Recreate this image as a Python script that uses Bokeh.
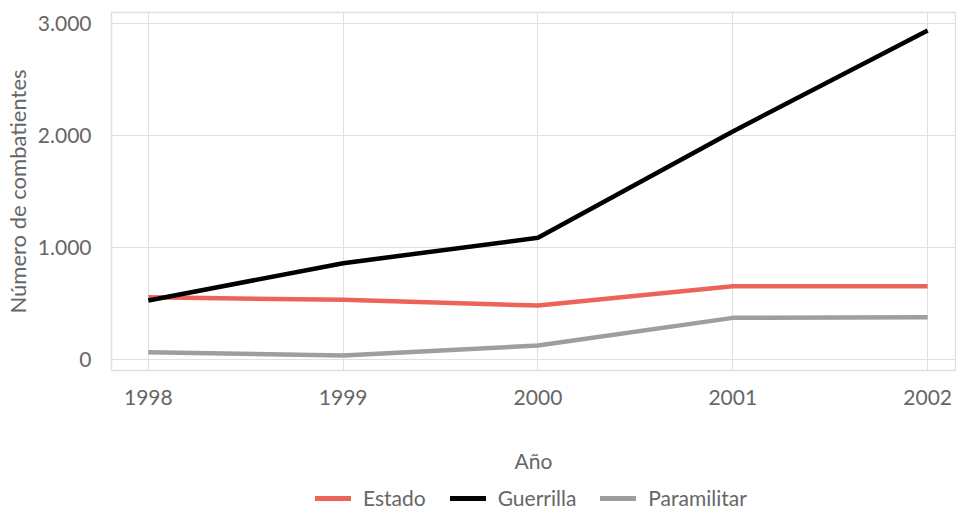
from bokeh.plotting import figure
from bokeh.layouts import column
from bokeh.models import FixedTicker, CustomJSTickFormatter, Range1d, Div
from bokeh.embed import file_html
from bokeh.resources import INLINE

years = [1998, 1999, 2000, 2001, 2002]
estado = [555, 533, 482, 655, 655]
guerrilla = [527, 860, 1087, 2036, 2937]
paramilitar = [65, 36, 125, 372, 378]
y_ticks = [0, 1000, 2000, 3000]
series_names = ["Estado", "Guerrilla", "Paramilitar"]
colors = ["#EC6459", "#000000", "#9E9E9E"]

FONT = "Lato"
TXT = "#666666"
LW = 4.5

p = figure(width=956, height=478, output_backend="svg", toolbar_location=None,
           x_range=Range1d(1997.811, 2002.143), y_range=Range1d(-98, 3098),
           min_border_left=107, min_border_right=1, min_border_top=12, min_border_bottom=108)

for vals, c in zip([estado, guerrilla, paramilitar], colors):
    p.line(years, vals, line_color=c, line_width=LW)

p.xaxis.ticker = FixedTicker(ticks=years)
p.yaxis.ticker = FixedTicker(ticks=y_ticks)
p.yaxis.formatter = CustomJSTickFormatter(code="return tick.toFixed(0).replace(/\\B(?=(\\d{3})+(?!\\d))/g, '.');")

for ax in [p.xaxis[0], p.yaxis[0]]:
    ax.axis_line_color = None
    ax.major_tick_line_color = None
    ax.minor_tick_line_color = None
    ax.major_label_text_font = FONT
    ax.major_label_text_font_size = "21px"
    ax.major_label_text_color = TXT
    ax.axis_label_text_font = FONT
    ax.axis_label_text_font_style = "normal"
    ax.axis_label_text_color = TXT

p.xaxis.axis_label = "Año"
p.xaxis.axis_label_text_font_size = "21px"
p.xaxis.major_label_standoff = 13
p.xaxis.axis_label_standoff = 40
p.yaxis.axis_label = "Número de combatientes"
p.yaxis.axis_label_text_font_size = "22px"
p.yaxis.major_label_standoff = 14
p.yaxis.axis_label_standoff = 4

p.xgrid.grid_line_color = "#E0E0E0"
p.ygrid.grid_line_color = "#E0E0E0"
p.outline_line_color = "#E0E0E0"
p.outline_line_width = 1.5

# legend strip below the chart (HTML, real text)
parts = []
for n, c in zip(series_names, colors):
    parts.append(
        f'<span style="display:inline-block;width:36px;height:5px;background:{c};margin-right:12px;"></span>'
        f'<span style="margin-right:24px;">{n}</span>'
    )
html = (f'<div style="display:flex;align-items:center;box-sizing:border-box;height:34px;'
        f'padding-top:6px;padding-left:315px;font-family:{FONT};font-size:21px;color:{TXT};'
        f'white-space:nowrap;line-height:26px;">' + "".join(parts) + '</div>')
lg = Div(text=html, width=956, height=34, margin=0)

layout = column(p, lg, spacing=0)
open("out.html", "w").write(file_html(layout, INLINE))
